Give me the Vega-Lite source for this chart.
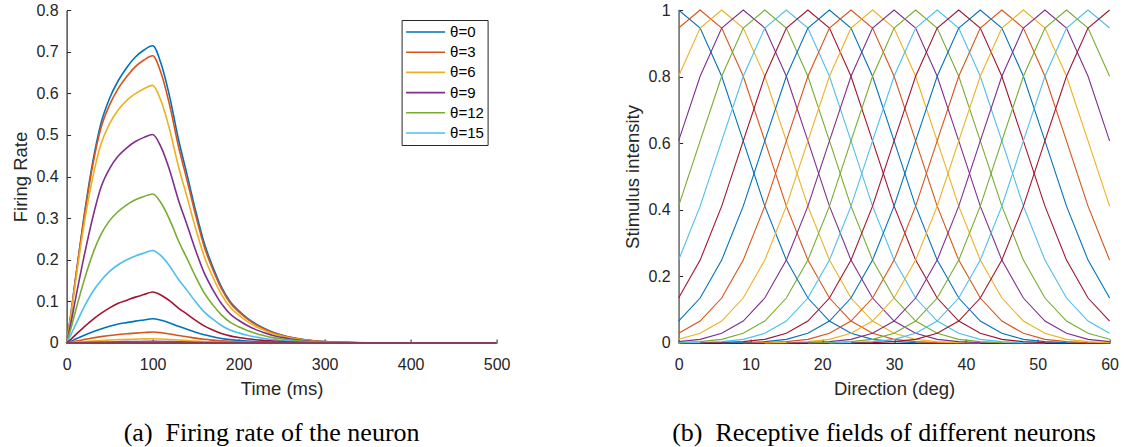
{
"$schema":"https://vega.github.io/schema/vega-lite/v6.json",
"background":"white",
"padding":{"left":10.6,"top":2,"right":5,"bottom":0},
"spacing":182,
"bounds":"flush",
"resolve":{"scale":{"color":"independent"},"legend":{"color":"independent"}},
"config":{
 "view":{"stroke":null},
 "font":"Liberation Sans",
 "axis":{"grid":false,"labelFlush":false,"labelOverlap":false,"domainColor":"#262626","tickColor":"#262626","labelColor":"#262626","titleColor":"#262626","labelFont":"Liberation Sans","titleFont":"Liberation Sans","labelFontSize":16,"titleFontSize":18.5,"titleFontWeight":"normal","tickSize":-4,"domainWidth":1.2,"tickWidth":1},
 "axisX":{"labelPadding":17.5,"titlePadding":7.4},
 "axisY":{"labelPadding":12.4,"titlePadding":5.9},
 "title":{"font":"Liberation Serif","fontSize":26,"fontWeight":"normal","color":"black"}
},
"datasets":{
"fr":[
{"s":0,"t":0,"r":0},{"s":0,"t":5,"r":0.07},{"s":0,"t":10,"r":0.15},{"s":0,"t":20,"r":0.3},{"s":0,"t":30,"r":0.43},{"s":0,"t":40,"r":0.528},{"s":0,"t":50,"r":0.588},{"s":0,"t":60,"r":0.63},{"s":0,"t":70,"r":0.662},{"s":0,"t":80,"r":0.687},{"s":0,"t":90,"r":0.704},{"s":0,"t":100,"r":0.714},{"s":0,"t":110,"r":0.67},{"s":0,"t":120,"r":0.59},{"s":0,"t":130,"r":0.49},{"s":0,"t":140,"r":0.405},{"s":0,"t":150,"r":0.318},{"s":0,"t":160,"r":0.24},{"s":0,"t":170,"r":0.183},{"s":0,"t":180,"r":0.135},{"s":0,"t":190,"r":0.1},{"s":0,"t":200,"r":0.078},{"s":0,"t":210,"r":0.06},{"s":0,"t":220,"r":0.046},{"s":0,"t":230,"r":0.035},{"s":0,"t":240,"r":0.026},{"s":0,"t":250,"r":0.019},{"s":0,"t":260,"r":0.014},{"s":0,"t":280,"r":0.007},{"s":0,"t":300,"r":0.0035},{"s":0,"t":330,"r":0.0013},{"s":0,"t":360,"r":0.0005},{"s":0,"t":400,"r":0.0001},{"s":0,"t":500,"r":0},
{"s":3,"t":0,"r":0},{"s":3,"t":5,"r":0.069},{"s":3,"t":10,"r":0.148},{"s":3,"t":20,"r":0.296},{"s":3,"t":30,"r":0.423},{"s":3,"t":40,"r":0.517},{"s":3,"t":50,"r":0.572},{"s":3,"t":60,"r":0.611},{"s":3,"t":70,"r":0.64},{"s":3,"t":80,"r":0.664},{"s":3,"t":90,"r":0.68},{"s":3,"t":100,"r":0.69},{"s":3,"t":110,"r":0.6472},{"s":3,"t":120,"r":0.5699},{"s":3,"t":130,"r":0.4733},{"s":3,"t":140,"r":0.3912},{"s":3,"t":150,"r":0.3071},{"s":3,"t":160,"r":0.2318},{"s":3,"t":170,"r":0.1766},{"s":3,"t":180,"r":0.1304},{"s":3,"t":190,"r":0.0966},{"s":3,"t":200,"r":0.0752},{"s":3,"t":210,"r":0.058},{"s":3,"t":220,"r":0.0442},{"s":3,"t":230,"r":0.0338},{"s":3,"t":240,"r":0.0248},{"s":3,"t":250,"r":0.0186},{"s":3,"t":260,"r":0.0135},{"s":3,"t":280,"r":0.0068},{"s":3,"t":300,"r":0.0034},{"s":3,"t":330,"r":0.0012},{"s":3,"t":360,"r":0.0005},{"s":3,"t":400,"r":0.0001},{"s":3,"t":500,"r":0},
{"s":6,"t":0,"r":0},{"s":6,"t":5,"r":0.066},{"s":6,"t":10,"r":0.141},{"s":6,"t":20,"r":0.281},{"s":6,"t":30,"r":0.394},{"s":6,"t":40,"r":0.478},{"s":6,"t":50,"r":0.527},{"s":6,"t":60,"r":0.56},{"s":6,"t":70,"r":0.583},{"s":6,"t":80,"r":0.599},{"s":6,"t":90,"r":0.611},{"s":6,"t":100,"r":0.619},{"s":6,"t":110,"r":0.5806},{"s":6,"t":120,"r":0.5113},{"s":6,"t":130,"r":0.4246},{"s":6,"t":140,"r":0.351},{"s":6,"t":150,"r":0.2755},{"s":6,"t":160,"r":0.208},{"s":6,"t":170,"r":0.1585},{"s":6,"t":180,"r":0.117},{"s":6,"t":190,"r":0.0867},{"s":6,"t":200,"r":0.0675},{"s":6,"t":210,"r":0.052},{"s":6,"t":220,"r":0.0396},{"s":6,"t":230,"r":0.0303},{"s":6,"t":240,"r":0.0223},{"s":6,"t":250,"r":0.0167},{"s":6,"t":260,"r":0.0121},{"s":6,"t":280,"r":0.0061},{"s":6,"t":300,"r":0.003},{"s":6,"t":330,"r":0.0011},{"s":6,"t":360,"r":0.0004},{"s":6,"t":400,"r":0.0001},{"s":6,"t":500,"r":0},
{"s":9,"t":0,"r":0},{"s":9,"t":5,"r":0.048},{"s":9,"t":10,"r":0.102},{"s":9,"t":20,"r":0.205},{"s":9,"t":30,"r":0.298},{"s":9,"t":40,"r":0.374},{"s":9,"t":50,"r":0.419},{"s":9,"t":60,"r":0.449},{"s":9,"t":70,"r":0.469},{"s":9,"t":80,"r":0.484},{"s":9,"t":90,"r":0.494},{"s":9,"t":100,"r":0.501},{"s":9,"t":110,"r":0.4699},{"s":9,"t":120,"r":0.4138},{"s":9,"t":130,"r":0.3437},{"s":9,"t":140,"r":0.2841},{"s":9,"t":150,"r":0.2229},{"s":9,"t":160,"r":0.1683},{"s":9,"t":170,"r":0.1283},{"s":9,"t":180,"r":0.0947},{"s":9,"t":190,"r":0.0701},{"s":9,"t":200,"r":0.0546},{"s":9,"t":210,"r":0.0421},{"s":9,"t":220,"r":0.0321},{"s":9,"t":230,"r":0.0245},{"s":9,"t":240,"r":0.018},{"s":9,"t":250,"r":0.0135},{"s":9,"t":260,"r":0.0098},{"s":9,"t":280,"r":0.0049},{"s":9,"t":300,"r":0.0025},{"s":9,"t":330,"r":0.0009},{"s":9,"t":360,"r":0.0004},{"s":9,"t":400,"r":0.0001},{"s":9,"t":500,"r":0},
{"s":12,"t":0,"r":0},{"s":12,"t":5,"r":0.035},{"s":12,"t":10,"r":0.074},{"s":12,"t":20,"r":0.148},{"s":12,"t":30,"r":0.212},{"s":12,"t":40,"r":0.261},{"s":12,"t":50,"r":0.294},{"s":12,"t":60,"r":0.316},{"s":12,"t":70,"r":0.332},{"s":12,"t":80,"r":0.344},{"s":12,"t":90,"r":0.352},{"s":12,"t":100,"r":0.358},{"s":12,"t":110,"r":0.3358},{"s":12,"t":120,"r":0.2957},{"s":12,"t":130,"r":0.2456},{"s":12,"t":140,"r":0.203},{"s":12,"t":150,"r":0.1593},{"s":12,"t":160,"r":0.1203},{"s":12,"t":170,"r":0.0916},{"s":12,"t":180,"r":0.0677},{"s":12,"t":190,"r":0.0501},{"s":12,"t":200,"r":0.039},{"s":12,"t":210,"r":0.0301},{"s":12,"t":220,"r":0.0229},{"s":12,"t":230,"r":0.0175},{"s":12,"t":240,"r":0.0129},{"s":12,"t":250,"r":0.0097},{"s":12,"t":260,"r":0.007},{"s":12,"t":280,"r":0.0035},{"s":12,"t":300,"r":0.0018},{"s":12,"t":330,"r":0.0006},{"s":12,"t":360,"r":0.0003},{"s":12,"t":400,"r":0.0001},{"s":12,"t":500,"r":0},
{"s":15,"t":0,"r":0},{"s":15,"t":5,"r":0.02},{"s":15,"t":10,"r":0.042},{"s":15,"t":20,"r":0.085},{"s":15,"t":30,"r":0.122},{"s":15,"t":40,"r":0.15},{"s":15,"t":50,"r":0.172},{"s":15,"t":60,"r":0.188},{"s":15,"t":70,"r":0.2},{"s":15,"t":80,"r":0.209},{"s":15,"t":90,"r":0.216},{"s":15,"t":100,"r":0.2224},{"s":15,"t":110,"r":0.2092},{"s":15,"t":120,"r":0.1842},{"s":15,"t":130,"r":0.153},{"s":15,"t":140,"r":0.1264},{"s":15,"t":150,"r":0.0992},{"s":15,"t":160,"r":0.0749},{"s":15,"t":170,"r":0.0571},{"s":15,"t":180,"r":0.0421},{"s":15,"t":190,"r":0.0312},{"s":15,"t":200,"r":0.0243},{"s":15,"t":210,"r":0.0187},{"s":15,"t":220,"r":0.0143},{"s":15,"t":230,"r":0.0109},{"s":15,"t":240,"r":0.008},{"s":15,"t":250,"r":0.006},{"s":15,"t":260,"r":0.0044},{"s":15,"t":280,"r":0.0022},{"s":15,"t":300,"r":0.0011},{"s":15,"t":330,"r":0.0004},{"s":15,"t":360,"r":0.0002},{"s":15,"t":400,"r":0},{"s":15,"t":500,"r":0},
{"s":18,"t":0,"r":0},{"s":18,"t":5,"r":0.0086},{"s":18,"t":10,"r":0.019},{"s":18,"t":20,"r":0.0379},{"s":18,"t":30,"r":0.0557},{"s":18,"t":40,"r":0.071},{"s":18,"t":50,"r":0.0845},{"s":18,"t":60,"r":0.0955},{"s":18,"t":70,"r":0.1028},{"s":18,"t":80,"r":0.1102},{"s":18,"t":90,"r":0.1163},{"s":18,"t":100,"r":0.1224},{"s":18,"t":110,"r":0.1148},{"s":18,"t":120,"r":0.1011},{"s":18,"t":130,"r":0.084},{"s":18,"t":140,"r":0.0694},{"s":18,"t":150,"r":0.0545},{"s":18,"t":160,"r":0.0411},{"s":18,"t":170,"r":0.0313},{"s":18,"t":180,"r":0.0231},{"s":18,"t":190,"r":0.0171},{"s":18,"t":200,"r":0.0133},{"s":18,"t":210,"r":0.0103},{"s":18,"t":220,"r":0.0078},{"s":18,"t":230,"r":0.006},{"s":18,"t":240,"r":0.0044},{"s":18,"t":250,"r":0.0033},{"s":18,"t":260,"r":0.0024},{"s":18,"t":280,"r":0.0012},{"s":18,"t":300,"r":0.0006},{"s":18,"t":330,"r":0.0002},{"s":18,"t":360,"r":0.0001},{"s":18,"t":400,"r":0},{"s":18,"t":500,"r":0},
{"s":21,"t":0,"r":0},{"s":21,"t":5,"r":0.0041},{"s":21,"t":10,"r":0.009},{"s":21,"t":20,"r":0.0181},{"s":21,"t":30,"r":0.0265},{"s":21,"t":40,"r":0.0338},{"s":21,"t":50,"r":0.0402},{"s":21,"t":60,"r":0.0455},{"s":21,"t":70,"r":0.049},{"s":21,"t":80,"r":0.0525},{"s":21,"t":90,"r":0.0554},{"s":21,"t":100,"r":0.0583},{"s":21,"t":110,"r":0.0547},{"s":21,"t":120,"r":0.0482},{"s":21,"t":130,"r":0.04},{"s":21,"t":140,"r":0.0331},{"s":21,"t":150,"r":0.0259},{"s":21,"t":160,"r":0.0196},{"s":21,"t":170,"r":0.0149},{"s":21,"t":180,"r":0.011},{"s":21,"t":190,"r":0.0082},{"s":21,"t":200,"r":0.0064},{"s":21,"t":210,"r":0.0049},{"s":21,"t":220,"r":0.0037},{"s":21,"t":230,"r":0.0029},{"s":21,"t":240,"r":0.0021},{"s":21,"t":250,"r":0.0016},{"s":21,"t":260,"r":0.0011},{"s":21,"t":280,"r":0.0006},{"s":21,"t":300,"r":0.0003},{"s":21,"t":330,"r":0.0001},{"s":21,"t":360,"r":0},{"s":21,"t":400,"r":0},{"s":21,"t":500,"r":0},
{"s":24,"t":0,"r":0},{"s":24,"t":5,"r":0.0018},{"s":24,"t":10,"r":0.0041},{"s":24,"t":20,"r":0.0082},{"s":24,"t":30,"r":0.012},{"s":24,"t":40,"r":0.0153},{"s":24,"t":50,"r":0.0182},{"s":24,"t":60,"r":0.0206},{"s":24,"t":70,"r":0.0222},{"s":24,"t":80,"r":0.0238},{"s":24,"t":90,"r":0.0251},{"s":24,"t":100,"r":0.0264},{"s":24,"t":110,"r":0.0248},{"s":24,"t":120,"r":0.0218},{"s":24,"t":130,"r":0.0181},{"s":24,"t":140,"r":0.015},{"s":24,"t":150,"r":0.0117},{"s":24,"t":160,"r":0.0089},{"s":24,"t":170,"r":0.0068},{"s":24,"t":180,"r":0.005},{"s":24,"t":190,"r":0.0037},{"s":24,"t":200,"r":0.0029},{"s":24,"t":210,"r":0.0022},{"s":24,"t":220,"r":0.0017},{"s":24,"t":230,"r":0.0013},{"s":24,"t":240,"r":0.001},{"s":24,"t":250,"r":0.0007},{"s":24,"t":260,"r":0.0005},{"s":24,"t":280,"r":0.0003},{"s":24,"t":300,"r":0.0001},{"s":24,"t":330,"r":0},{"s":24,"t":500,"r":0},
{"s":27,"t":0,"r":0},{"s":27,"t":10,"r":0.0016},{"s":27,"t":20,"r":0.0032},{"s":27,"t":30,"r":0.0047},{"s":27,"t":40,"r":0.006},{"s":27,"t":50,"r":0.0071},{"s":27,"t":60,"r":0.008},{"s":27,"t":70,"r":0.0087},{"s":27,"t":80,"r":0.0093},{"s":27,"t":90,"r":0.0098},{"s":27,"t":100,"r":0.0103},{"s":27,"t":110,"r":0.0097},{"s":27,"t":120,"r":0.0085},{"s":27,"t":130,"r":0.0071},{"s":27,"t":140,"r":0.0058},{"s":27,"t":150,"r":0.0046},{"s":27,"t":160,"r":0.0035},{"s":27,"t":170,"r":0.0026},{"s":27,"t":180,"r":0.0019},{"s":27,"t":200,"r":0.0011},{"s":27,"t":220,"r":0.0007},{"s":27,"t":250,"r":0.0003},{"s":27,"t":300,"r":0.0001},{"s":27,"t":500,"r":0},
{"s":30,"t":0,"r":0},{"s":30,"t":20,"r":0.0012},{"s":30,"t":40,"r":0.0023},{"s":30,"t":60,"r":0.0031},{"s":30,"t":80,"r":0.0036},{"s":30,"t":100,"r":0.004},{"s":30,"t":120,"r":0.0033},{"s":30,"t":140,"r":0.0023},{"s":30,"t":160,"r":0.0013},{"s":30,"t":180,"r":0.0008},{"s":30,"t":200,"r":0.0004},{"s":30,"t":250,"r":0.0001},{"s":30,"t":500,"r":0},
{"s":33,"t":0,"r":0},{"s":33,"t":50,"r":0.001},{"s":33,"t":100,"r":0.0014},{"s":33,"t":150,"r":0.0006},{"s":33,"t":200,"r":0.0001},{"s":33,"t":500,"r":0},
{"s":36,"t":0,"r":0},{"s":36,"t":500,"r":0},
{"s":39,"t":0,"r":0},{"s":39,"t":500,"r":0},
{"s":42,"t":0,"r":0},{"s":42,"t":500,"r":0},
{"s":45,"t":0,"r":0},{"s":45,"t":500,"r":0},
{"s":48,"t":0,"r":0},{"s":48,"t":500,"r":0},
{"s":51,"t":0,"r":0},{"s":51,"t":500,"r":0},
{"s":54,"t":0,"r":0},{"s":54,"t":500,"r":0},
{"s":57,"t":0,"r":0},{"s":57,"t":500,"r":0},
{"s":60,"t":0,"r":0},{"s":60,"t":500,"r":0}
],
"rf":[
{"c":0,"x":0,"y":1},{"c":0,"x":3,"y":0.946},{"c":0,"x":6,"y":0.801},{"c":0,"x":9,"y":0.607},{"c":0,"x":12,"y":0.411},{"c":0,"x":15,"y":0.249},{"c":0,"x":18,"y":0.135},{"c":0,"x":21,"y":0.066},{"c":0,"x":24,"y":0.029},{"c":0,"x":27,"y":0.011},{"c":0,"x":30,"y":0.004},{"c":0,"x":33,"y":0.001},{"c":0,"x":36,"y":0},
{"c":3,"x":0,"y":0.946},{"c":3,"x":3,"y":1},{"c":3,"x":6,"y":0.946},{"c":3,"x":9,"y":0.801},{"c":3,"x":12,"y":0.607},{"c":3,"x":15,"y":0.411},{"c":3,"x":18,"y":0.249},{"c":3,"x":21,"y":0.135},{"c":3,"x":24,"y":0.066},{"c":3,"x":27,"y":0.029},{"c":3,"x":30,"y":0.011},{"c":3,"x":33,"y":0.004},{"c":3,"x":36,"y":0.001},{"c":3,"x":39,"y":0},
{"c":6,"x":0,"y":0.801},{"c":6,"x":3,"y":0.946},{"c":6,"x":6,"y":1},{"c":6,"x":9,"y":0.946},{"c":6,"x":12,"y":0.801},{"c":6,"x":15,"y":0.607},{"c":6,"x":18,"y":0.411},{"c":6,"x":21,"y":0.249},{"c":6,"x":24,"y":0.135},{"c":6,"x":27,"y":0.066},{"c":6,"x":30,"y":0.029},{"c":6,"x":33,"y":0.011},{"c":6,"x":36,"y":0.004},{"c":6,"x":39,"y":0.001},{"c":6,"x":42,"y":0},
{"c":9,"x":0,"y":0.607},{"c":9,"x":3,"y":0.801},{"c":9,"x":6,"y":0.946},{"c":9,"x":9,"y":1},{"c":9,"x":12,"y":0.946},{"c":9,"x":15,"y":0.801},{"c":9,"x":18,"y":0.607},{"c":9,"x":21,"y":0.411},{"c":9,"x":24,"y":0.249},{"c":9,"x":27,"y":0.135},{"c":9,"x":30,"y":0.066},{"c":9,"x":33,"y":0.029},{"c":9,"x":36,"y":0.011},{"c":9,"x":39,"y":0.004},{"c":9,"x":42,"y":0.001},{"c":9,"x":45,"y":0},
{"c":12,"x":0,"y":0.411},{"c":12,"x":3,"y":0.607},{"c":12,"x":6,"y":0.801},{"c":12,"x":9,"y":0.946},{"c":12,"x":12,"y":1},{"c":12,"x":15,"y":0.946},{"c":12,"x":18,"y":0.801},{"c":12,"x":21,"y":0.607},{"c":12,"x":24,"y":0.411},{"c":12,"x":27,"y":0.249},{"c":12,"x":30,"y":0.135},{"c":12,"x":33,"y":0.066},{"c":12,"x":36,"y":0.029},{"c":12,"x":39,"y":0.011},{"c":12,"x":42,"y":0.004},{"c":12,"x":45,"y":0.001},{"c":12,"x":48,"y":0},
{"c":15,"x":0,"y":0.249},{"c":15,"x":3,"y":0.411},{"c":15,"x":6,"y":0.607},{"c":15,"x":9,"y":0.801},{"c":15,"x":12,"y":0.946},{"c":15,"x":15,"y":1},{"c":15,"x":18,"y":0.946},{"c":15,"x":21,"y":0.801},{"c":15,"x":24,"y":0.607},{"c":15,"x":27,"y":0.411},{"c":15,"x":30,"y":0.249},{"c":15,"x":33,"y":0.135},{"c":15,"x":36,"y":0.066},{"c":15,"x":39,"y":0.029},{"c":15,"x":42,"y":0.011},{"c":15,"x":45,"y":0.004},{"c":15,"x":48,"y":0.001},{"c":15,"x":51,"y":0},
{"c":18,"x":0,"y":0.135},{"c":18,"x":3,"y":0.249},{"c":18,"x":6,"y":0.411},{"c":18,"x":9,"y":0.607},{"c":18,"x":12,"y":0.801},{"c":18,"x":15,"y":0.946},{"c":18,"x":18,"y":1},{"c":18,"x":21,"y":0.946},{"c":18,"x":24,"y":0.801},{"c":18,"x":27,"y":0.607},{"c":18,"x":30,"y":0.411},{"c":18,"x":33,"y":0.249},{"c":18,"x":36,"y":0.135},{"c":18,"x":39,"y":0.066},{"c":18,"x":42,"y":0.029},{"c":18,"x":45,"y":0.011},{"c":18,"x":48,"y":0.004},{"c":18,"x":51,"y":0.001},{"c":18,"x":54,"y":0},
{"c":21,"x":0,"y":0.066},{"c":21,"x":3,"y":0.135},{"c":21,"x":6,"y":0.249},{"c":21,"x":9,"y":0.411},{"c":21,"x":12,"y":0.607},{"c":21,"x":15,"y":0.801},{"c":21,"x":18,"y":0.946},{"c":21,"x":21,"y":1},{"c":21,"x":24,"y":0.946},{"c":21,"x":27,"y":0.801},{"c":21,"x":30,"y":0.607},{"c":21,"x":33,"y":0.411},{"c":21,"x":36,"y":0.249},{"c":21,"x":39,"y":0.135},{"c":21,"x":42,"y":0.066},{"c":21,"x":45,"y":0.029},{"c":21,"x":48,"y":0.011},{"c":21,"x":51,"y":0.004},{"c":21,"x":54,"y":0.001},{"c":21,"x":57,"y":0},
{"c":24,"x":0,"y":0.029},{"c":24,"x":3,"y":0.066},{"c":24,"x":6,"y":0.135},{"c":24,"x":9,"y":0.249},{"c":24,"x":12,"y":0.411},{"c":24,"x":15,"y":0.607},{"c":24,"x":18,"y":0.801},{"c":24,"x":21,"y":0.946},{"c":24,"x":24,"y":1},{"c":24,"x":27,"y":0.946},{"c":24,"x":30,"y":0.801},{"c":24,"x":33,"y":0.607},{"c":24,"x":36,"y":0.411},{"c":24,"x":39,"y":0.249},{"c":24,"x":42,"y":0.135},{"c":24,"x":45,"y":0.066},{"c":24,"x":48,"y":0.029},{"c":24,"x":51,"y":0.011},{"c":24,"x":54,"y":0.004},{"c":24,"x":57,"y":0.001},{"c":24,"x":60,"y":0},
{"c":27,"x":0,"y":0.011},{"c":27,"x":3,"y":0.029},{"c":27,"x":6,"y":0.066},{"c":27,"x":9,"y":0.135},{"c":27,"x":12,"y":0.249},{"c":27,"x":15,"y":0.411},{"c":27,"x":18,"y":0.607},{"c":27,"x":21,"y":0.801},{"c":27,"x":24,"y":0.946},{"c":27,"x":27,"y":1},{"c":27,"x":30,"y":0.946},{"c":27,"x":33,"y":0.801},{"c":27,"x":36,"y":0.607},{"c":27,"x":39,"y":0.411},{"c":27,"x":42,"y":0.249},{"c":27,"x":45,"y":0.135},{"c":27,"x":48,"y":0.066},{"c":27,"x":51,"y":0.029},{"c":27,"x":54,"y":0.011},{"c":27,"x":57,"y":0.004},{"c":27,"x":60,"y":0.001},
{"c":30,"x":0,"y":0.004},{"c":30,"x":3,"y":0.011},{"c":30,"x":6,"y":0.029},{"c":30,"x":9,"y":0.066},{"c":30,"x":12,"y":0.135},{"c":30,"x":15,"y":0.249},{"c":30,"x":18,"y":0.411},{"c":30,"x":21,"y":0.607},{"c":30,"x":24,"y":0.801},{"c":30,"x":27,"y":0.946},{"c":30,"x":30,"y":1},{"c":30,"x":33,"y":0.946},{"c":30,"x":36,"y":0.801},{"c":30,"x":39,"y":0.607},{"c":30,"x":42,"y":0.411},{"c":30,"x":45,"y":0.249},{"c":30,"x":48,"y":0.135},{"c":30,"x":51,"y":0.066},{"c":30,"x":54,"y":0.029},{"c":30,"x":57,"y":0.011},{"c":30,"x":60,"y":0.004},
{"c":33,"x":0,"y":0.001},{"c":33,"x":3,"y":0.004},{"c":33,"x":6,"y":0.011},{"c":33,"x":9,"y":0.029},{"c":33,"x":12,"y":0.066},{"c":33,"x":15,"y":0.135},{"c":33,"x":18,"y":0.249},{"c":33,"x":21,"y":0.411},{"c":33,"x":24,"y":0.607},{"c":33,"x":27,"y":0.801},{"c":33,"x":30,"y":0.946},{"c":33,"x":33,"y":1},{"c":33,"x":36,"y":0.946},{"c":33,"x":39,"y":0.801},{"c":33,"x":42,"y":0.607},{"c":33,"x":45,"y":0.411},{"c":33,"x":48,"y":0.249},{"c":33,"x":51,"y":0.135},{"c":33,"x":54,"y":0.066},{"c":33,"x":57,"y":0.029},{"c":33,"x":60,"y":0.011},
{"c":36,"x":0,"y":0},{"c":36,"x":3,"y":0.001},{"c":36,"x":6,"y":0.004},{"c":36,"x":9,"y":0.011},{"c":36,"x":12,"y":0.029},{"c":36,"x":15,"y":0.066},{"c":36,"x":18,"y":0.135},{"c":36,"x":21,"y":0.249},{"c":36,"x":24,"y":0.411},{"c":36,"x":27,"y":0.607},{"c":36,"x":30,"y":0.801},{"c":36,"x":33,"y":0.946},{"c":36,"x":36,"y":1},{"c":36,"x":39,"y":0.946},{"c":36,"x":42,"y":0.801},{"c":36,"x":45,"y":0.607},{"c":36,"x":48,"y":0.411},{"c":36,"x":51,"y":0.249},{"c":36,"x":54,"y":0.135},{"c":36,"x":57,"y":0.066},{"c":36,"x":60,"y":0.029},
{"c":39,"x":3,"y":0},{"c":39,"x":6,"y":0.001},{"c":39,"x":9,"y":0.004},{"c":39,"x":12,"y":0.011},{"c":39,"x":15,"y":0.029},{"c":39,"x":18,"y":0.066},{"c":39,"x":21,"y":0.135},{"c":39,"x":24,"y":0.249},{"c":39,"x":27,"y":0.411},{"c":39,"x":30,"y":0.607},{"c":39,"x":33,"y":0.801},{"c":39,"x":36,"y":0.946},{"c":39,"x":39,"y":1},{"c":39,"x":42,"y":0.946},{"c":39,"x":45,"y":0.801},{"c":39,"x":48,"y":0.607},{"c":39,"x":51,"y":0.411},{"c":39,"x":54,"y":0.249},{"c":39,"x":57,"y":0.135},{"c":39,"x":60,"y":0.066},
{"c":42,"x":6,"y":0},{"c":42,"x":9,"y":0.001},{"c":42,"x":12,"y":0.004},{"c":42,"x":15,"y":0.011},{"c":42,"x":18,"y":0.029},{"c":42,"x":21,"y":0.066},{"c":42,"x":24,"y":0.135},{"c":42,"x":27,"y":0.249},{"c":42,"x":30,"y":0.411},{"c":42,"x":33,"y":0.607},{"c":42,"x":36,"y":0.801},{"c":42,"x":39,"y":0.946},{"c":42,"x":42,"y":1},{"c":42,"x":45,"y":0.946},{"c":42,"x":48,"y":0.801},{"c":42,"x":51,"y":0.607},{"c":42,"x":54,"y":0.411},{"c":42,"x":57,"y":0.249},{"c":42,"x":60,"y":0.135},
{"c":45,"x":9,"y":0},{"c":45,"x":12,"y":0.001},{"c":45,"x":15,"y":0.004},{"c":45,"x":18,"y":0.011},{"c":45,"x":21,"y":0.029},{"c":45,"x":24,"y":0.066},{"c":45,"x":27,"y":0.135},{"c":45,"x":30,"y":0.249},{"c":45,"x":33,"y":0.411},{"c":45,"x":36,"y":0.607},{"c":45,"x":39,"y":0.801},{"c":45,"x":42,"y":0.946},{"c":45,"x":45,"y":1},{"c":45,"x":48,"y":0.946},{"c":45,"x":51,"y":0.801},{"c":45,"x":54,"y":0.607},{"c":45,"x":57,"y":0.411},{"c":45,"x":60,"y":0.249},
{"c":48,"x":12,"y":0},{"c":48,"x":15,"y":0.001},{"c":48,"x":18,"y":0.004},{"c":48,"x":21,"y":0.011},{"c":48,"x":24,"y":0.029},{"c":48,"x":27,"y":0.066},{"c":48,"x":30,"y":0.135},{"c":48,"x":33,"y":0.249},{"c":48,"x":36,"y":0.411},{"c":48,"x":39,"y":0.607},{"c":48,"x":42,"y":0.801},{"c":48,"x":45,"y":0.946},{"c":48,"x":48,"y":1},{"c":48,"x":51,"y":0.946},{"c":48,"x":54,"y":0.801},{"c":48,"x":57,"y":0.607},{"c":48,"x":60,"y":0.411},
{"c":51,"x":15,"y":0},{"c":51,"x":18,"y":0.001},{"c":51,"x":21,"y":0.004},{"c":51,"x":24,"y":0.011},{"c":51,"x":27,"y":0.029},{"c":51,"x":30,"y":0.066},{"c":51,"x":33,"y":0.135},{"c":51,"x":36,"y":0.249},{"c":51,"x":39,"y":0.411},{"c":51,"x":42,"y":0.607},{"c":51,"x":45,"y":0.801},{"c":51,"x":48,"y":0.946},{"c":51,"x":51,"y":1},{"c":51,"x":54,"y":0.946},{"c":51,"x":57,"y":0.801},{"c":51,"x":60,"y":0.607},
{"c":54,"x":18,"y":0},{"c":54,"x":21,"y":0.001},{"c":54,"x":24,"y":0.004},{"c":54,"x":27,"y":0.011},{"c":54,"x":30,"y":0.029},{"c":54,"x":33,"y":0.066},{"c":54,"x":36,"y":0.135},{"c":54,"x":39,"y":0.249},{"c":54,"x":42,"y":0.411},{"c":54,"x":45,"y":0.607},{"c":54,"x":48,"y":0.801},{"c":54,"x":51,"y":0.946},{"c":54,"x":54,"y":1},{"c":54,"x":57,"y":0.946},{"c":54,"x":60,"y":0.801},
{"c":57,"x":21,"y":0},{"c":57,"x":24,"y":0.001},{"c":57,"x":27,"y":0.004},{"c":57,"x":30,"y":0.011},{"c":57,"x":33,"y":0.029},{"c":57,"x":36,"y":0.066},{"c":57,"x":39,"y":0.135},{"c":57,"x":42,"y":0.249},{"c":57,"x":45,"y":0.411},{"c":57,"x":48,"y":0.607},{"c":57,"x":51,"y":0.801},{"c":57,"x":54,"y":0.946},{"c":57,"x":57,"y":1},{"c":57,"x":60,"y":0.946},
{"c":60,"x":24,"y":0},{"c":60,"x":27,"y":0.001},{"c":60,"x":30,"y":0.004},{"c":60,"x":33,"y":0.011},{"c":60,"x":36,"y":0.029},{"c":60,"x":39,"y":0.066},{"c":60,"x":42,"y":0.135},{"c":60,"x":45,"y":0.249},{"c":60,"x":48,"y":0.411},{"c":60,"x":51,"y":0.607},{"c":60,"x":54,"y":0.801},{"c":60,"x":57,"y":0.946},{"c":60,"x":60,"y":1}
]
},
"hconcat":[
{
 "width":430,"height":333,
 "data":{"name":"fr"},
 "title":{"text":"(a)\u2002Firing rate of the neuron","orient":"bottom","anchor":"middle","frame":"group","offset":22,"dx":-10},
 "mark":{"type":"line","interpolate":"monotone","strokeWidth":1.6},
 "encoding":{
  "x":{"field":"t","type":"quantitative","scale":{"domain":[0,500],"nice":false},"axis":{"title":"Time (ms)","values":[0,100,200,300,400,500],"format":"~r"}},
  "y":{"field":"r","type":"quantitative","scale":{"domain":[0,0.8],"nice":false},"axis":{"title":"Firing Rate","values":[0,0.1,0.2,0.3,0.4,0.5,0.6,0.7,0.8],"format":"~r"}},
  "color":{"field":"s","type":"ordinal",
   "scale":{"domain":[0,3,6,9,12,15,18,21,24,27,30,33,36,39,42,45,48,51,54,57,60],
    "range":["#0072BD","#D95319","#EDB120","#7E2F8E","#77AC30","#4DBEEE","#A2142F","#0072BD","#D95319","#EDB120","#7E2F8E","#77AC30","#4DBEEE","#A2142F","#0072BD","#D95319","#EDB120","#7E2F8E","#77AC30","#4DBEEE","#A2142F"]},
   "legend":{"values":[0,3,6,9,12,15],"title":null,"orient":"none","legendX":335,"legendY":10,"direction":"vertical","symbolType":"M-1,0H4.2","symbolSize":225,"symbolStrokeWidth":1.6,"labelFont":"Liberation Sans","labelFontSize":15,"labelColor":"black","labelExpr":"'θ=' + datum.label","strokeColor":"#262626","fillColor":"white","padding":3.5,"rowPadding":3.2,"labelOffset":28}}
 }
},
{
 "width":431,"height":333,
 "data":{"name":"rf"},
 "title":{"text":"(b)\u2002Receptive fields of different neurons","orient":"bottom","anchor":"middle","frame":"group","offset":22,"dx":-10},
 "mark":{"type":"line","strokeWidth":1.1},
 "encoding":{
  "x":{"field":"x","type":"quantitative","scale":{"domain":[0,60],"nice":false},"axis":{"title":"Direction (deg)","values":[0,10,20,30,40,50,60],"format":"~r"}},
  "y":{"field":"y","type":"quantitative","scale":{"domain":[0,1],"nice":false},"axis":{"title":"Stimulus intensity","values":[0,0.2,0.4,0.6,0.8,1],"format":"~r","domainColor":"#707070","domainWidth":1.6}},
  "color":{"field":"c","type":"ordinal",
   "scale":{"domain":[0,3,6,9,12,15,18,21,24,27,30,33,36,39,42,45,48,51,54,57,60],
    "range":["#0072BD","#D95319","#EDB120","#7E2F8E","#77AC30","#4DBEEE","#A2142F","#0072BD","#D95319","#EDB120","#7E2F8E","#77AC30","#4DBEEE","#A2142F","#0072BD","#D95319","#EDB120","#7E2F8E","#77AC30","#4DBEEE","#A2142F"]},
   "legend":null}
 }
}
]
}
